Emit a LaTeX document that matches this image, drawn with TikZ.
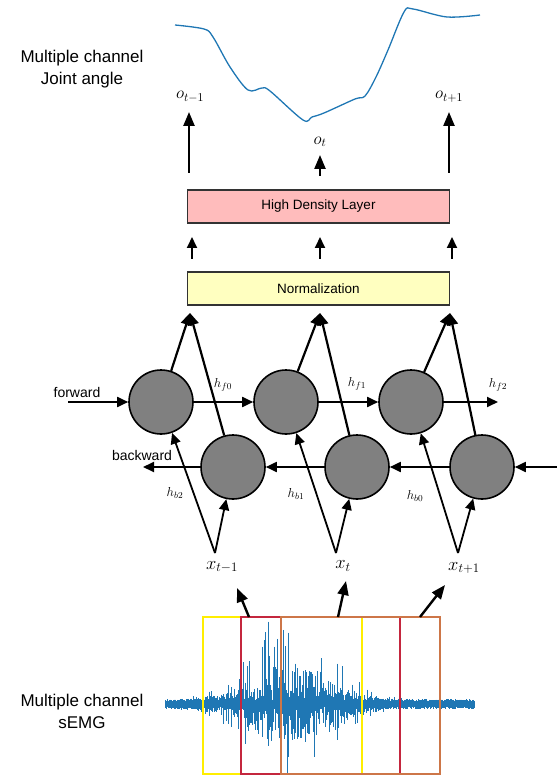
\RequirePackage{fix-cm}
\documentclass[tikz,border=0pt]{standalone}
\usepackage{fontspec}
\setmainfont{Liberation Sans}
\usetikzlibrary{arrows.meta}
\definecolor{mplblue}{RGB}{31,119,180}
\definecolor{pinkfill}{RGB}{255,188,188}
\definecolor{yellowfill}{RGB}{255,255,192}
\definecolor{winyellow}{RGB}{255,238,0}
\definecolor{winred}{RGB}{196,38,62}
\definecolor{winorange}{RGB}{205,118,72}
\definecolor{cellgray}{RGB}{128,128,128}
\tikzset{
  cell/.style={circle, draw=black, line width=1.6pt, fill=cellgray, minimum size=64pt, inner sep=0pt},
  layerbox/.style={draw=black!80, line width=1.1pt, minimum width=262pt, minimum height=33pt, inner sep=0pt, font=\fontsize{13.5}{16}\selectfont},
  arr/.style={-{Triangle[length=11pt,width=10pt]}, line width=1.8pt},
  arrbig/.style={-{Triangle[length=12pt,width=11pt]}, line width=2.2pt},
  outarr/.style={-{Triangle[length=14pt,width=11pt]}, line width=2.4pt},
  biglabel/.style={align=center, font=\fontsize{17}{22}\selectfont},
  smalllabel/.style={font=\fontsize{14}{16}\selectfont, inner sep=0pt},
  olabel/.style={font=\fontsize{17}{19}\selectfont, inner sep=0pt},
  xlabel/.style={font=\fontsize{18.5}{20}\selectfont, inner sep=0pt},
  hlabel/.style={font=\fontsize{13}{15}\selectfont, inner sep=0pt},
  win/.style={line width=1.2pt}
}
\begin{document}
\begin{tikzpicture}[x=1pt,y=-1pt]
\useasboundingbox (0,0) rectangle (556,775);

% ---------- side labels ----------
\node[biglabel] (outlbl) at (82,69) {Multiple channel\\Joint angle};
\node[biglabel] (inlbl) at (82,711) {Multiple channel\\sEMG};

% ---------- joint angle curve ----------
\draw[mplblue, line width=1.3pt] plot[smooth, tension=0.55] coordinates {
 (175,25) (204,29) (213,37) (230,67) (248,90) (262,88) (270,91)
 (303,120) (312,117) (324,113) (355,99) (365,96) (376,77) (388,50)
 (404,12) (413,9) (447,17) (480,15)};

% ---------- output labels and arrows ----------
\node[olabel] (o1) at (190,97) {$o_{t-1}$};
\node[olabel] (o2) at (320,142) {$o_{t}$};
\node[olabel] (o3) at (449,97) {$o_{t+1}$};
\coordinate (o1b) at (189,173); \coordinate (o1t) at (189,112);
\coordinate (o2b) at (320,176); \coordinate (o2t) at (320,155);
\coordinate (o3b) at (449,173); \coordinate (o3t) at (449,112);
\draw[outarr] (o1b) -- (o1t);
\draw[outarr] (o2b) -- (o2t);
\draw[outarr] (o3b) -- (o3t);

% ---------- layers ----------
\node[layerbox, fill=pinkfill] (dense) at (318.5,206.5) {High Density Layer};
\node[layerbox, fill=yellowfill] (norm) at (318.5,288.5) {Normalization};
\coordinate (d1b) at (192,259); \coordinate (d1t) at (192,237);
\coordinate (d2b) at (320,259); \coordinate (d2t) at (320,237);
\coordinate (d3b) at (452,259); \coordinate (d3t) at (452,237);
\draw[arr] (d1b) -- (d1t);
\draw[arr] (d2b) -- (d2t);
\draw[arr] (d3b) -- (d3t);

% ---------- recurrent cells ----------
\node[cell] (F1) at (161,402) {};
\node[cell] (F2) at (286,402) {};
\node[cell] (F3) at (411,402) {};
\node[cell] (B1) at (233,467) {};
\node[cell] (B2) at (357,467) {};
\node[cell] (B3) at (482,467) {};

% forward chain
\coordinate (fin) at (68,402);
\coordinate (fout) at (498,402);
\draw[arr] (fin) -- (F1);
\draw[arr] (F1) -- (F2);
\draw[arr] (F2) -- (F3);
\draw[arr] (F3) -- (fout);
\node[smalllabel] (fwd) at (77,392) {forward};

% backward chain
\coordinate (bin) at (557,467);
\coordinate (bout) at (143,467);
\draw[arr] (bin) -- (B3);
\draw[arr] (B3) -- (B2);
\draw[arr] (B2) -- (B1);
\draw[arr] (B1) -- (bout);
\node[smalllabel] (bwd) at (142,455) {backward};

% hidden-state labels
\node[hlabel] (hf0) at (223,385) {$h_{f0}$};
\node[hlabel] (hf1) at (357,384) {$h_{f1}$};
\node[hlabel] (hf2) at (498,385) {$h_{f2}$};
\node[hlabel] (hb2) at (175,493) {$h_{b2}$};
\node[hlabel] (hb1) at (296,494) {$h_{b1}$};
\node[hlabel] (hb0) at (415,496) {$h_{b0}$};

% to normalization
\coordinate (N1) at (190,313);
\coordinate (N2) at (320,313);
\coordinate (N3) at (450,313);
\draw[arrbig] (F1) -- (N1);
\draw[arrbig] (B1) -- (N1);
\draw[arrbig] (F2) -- (N2);
\draw[arrbig] (B2) -- (N2);
\draw[arrbig] (F3) -- (N3);
\draw[arrbig] (B3) -- (N3);

% ---------- inputs ----------
\node[xlabel] (x1) at (222,567) {$x_{t-1}$};
\node[xlabel] (x2) at (343,566) {$x_{t}$};
\node[xlabel] (x3) at (464,568) {$x_{t+1}$};
\coordinate (A1) at (215,553);
\coordinate (A2) at (336,553);
\coordinate (A3) at (458,553);
\draw[arr] (A1) -- (F1);
\draw[arr] (A1) -- (B1);
\draw[arr] (A2) -- (F2);
\draw[arr] (A2) -- (B2);
\draw[arr] (A3) -- (F3);
\draw[arr] (A3) -- (B3);

% ---------- sEMG signal ----------
\pgfmathsetseed{11}
\foreach \i in {0,...,619}{
  \pgfmathsetmacro{\xx}{165+\i*0.5}
  \pgfmathsetmacro{\dd}{(\xx-290)/55}
  \pgfmathsetmacro{\env}{38*exp(0-(\dd)*(\dd))}
  \pgfmathsetmacro{\ra}{rnd}
  \pgfmathsetmacro{\rb}{rnd}
  \pgfmathsetmacro{\up}{2.5+2.5*rnd+\env*(\ra<0.1 ? (1.2+1.2*\rb) : \rb*\rb)}
  \pgfmathsetmacro{\rc}{rnd}
  \pgfmathsetmacro{\rd}{rnd}
  \pgfmathsetmacro{\dn}{2.5+2.5*rnd+\env*(\rc<0.08 ? (1.0+0.9*\rd) : \rd*\rd)}
  \draw[mplblue, line width=1pt] (\xx,704-\up) -- (\xx,704+\dn);
}

% windows
\draw[win, winyellow] (203,617) rectangle (362,774);
\draw[win, winred] (241,617) rectangle (400,774);
\draw[win, winorange] (281,617) rectangle (440,774);

% arrows from windows to inputs
\coordinate (W1) at (249,617); \coordinate (T1) at (237,588);
\coordinate (W2) at (338,617); \coordinate (T2) at (346,581);
\coordinate (W3) at (420,617); \coordinate (T3) at (445,585);
\draw[outarr] (W1) -- (T1);
\draw[outarr] (W2) -- (T2);
\draw[outarr] (W3) -- (T3);
\end{tikzpicture}
\end{document}
